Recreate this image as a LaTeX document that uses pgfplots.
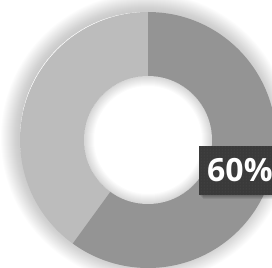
\documentclass[border=0pt]{standalone}
\usepackage{pgfplots}
\pgfplotsset{compat=1.18}
\usepackage{pgfplotstable}
\usetikzlibrary{patterns}
\usepackage{fontspec}
\setmainfont{Open Sans}
\definecolor{darkslice}{HTML}{949494}
\definecolor{lightslice}{HTML}{BCBCBC}
\definecolor{labelbg}{HTML}{3A3A3A}
\definecolor{labeldot}{HTML}{505050}
\pgfplotstableread{
label value
A 60
B 40
}\datatable
\begin{document}
\begin{tikzpicture}
\pgfplotstablegetelem{0}{value}\of\datatable \let\va\pgfplotsretval
\pgfplotstablegetelem{1}{value}\of\datatable \let\vb\pgfplotsretval
\pgfmathsetmacro\angA{90-3.6*\va}
\pgfmathsetmacro\angB{\angA-3.6*\vb}
\begin{axis}[at={(0,0)},anchor=south west,scale only axis,width=272pt,height=267pt,
  xmin=0,xmax=272,ymin=0,ymax=267,hide axis,clip=true]
\addplot[draw=none] coordinates {(0,0)};
% outer soft shadow
\pgfplotsinvokeforeach{1,...,18}{
  \fill[black,opacity=0.011,even odd rule] (axis cs:146,129) circle[radius=127pt+#1 pt] (axis cs:146,129) circle[radius=126pt];
}
% slices
\fill[lightslice] (axis cs:148,127) -- ++(\angA:128pt) arc[start angle=\angA,end angle=\angB,radius=128pt] -- cycle;
\fill[lightslice] (axis cs:148,127) circle[radius=127.5pt];
\fill[darkslice] (axis cs:148,127) -- ++(90:128pt) arc[start angle=90,end angle=\angA,radius=128pt] -- cycle;
% hole
\fill[white] (axis cs:148,127) circle[radius=64pt];
\pgfplotsinvokeforeach{1,...,10}{
  \fill[black,opacity=0.014,even odd rule] (axis cs:148,127) circle[radius=64pt] (axis cs:148,127) circle[radius=64pt-#1 pt];
}
% label
\pgfplotsinvokeforeach{1,...,4}{
  \fill[black,opacity=0.08] (axis cs:199+#1,72-#1) rectangle (axis cs:290,121-#1);
}
\fill[labelbg] (axis cs:199,72) rectangle (axis cs:290,121);
\fill[pattern=dots,pattern color=labeldot] (axis cs:199,72) rectangle (axis cs:290,121);
\node[anchor=west,text=white,font=\fontsize{32}{32}\selectfont\bfseries,inner sep=0pt] at (axis cs:207,96.5) {60\%};
\end{axis}
\pgfresetboundingbox
\path (0,0) rectangle (272pt,267pt);
\end{tikzpicture}
\end{document}
